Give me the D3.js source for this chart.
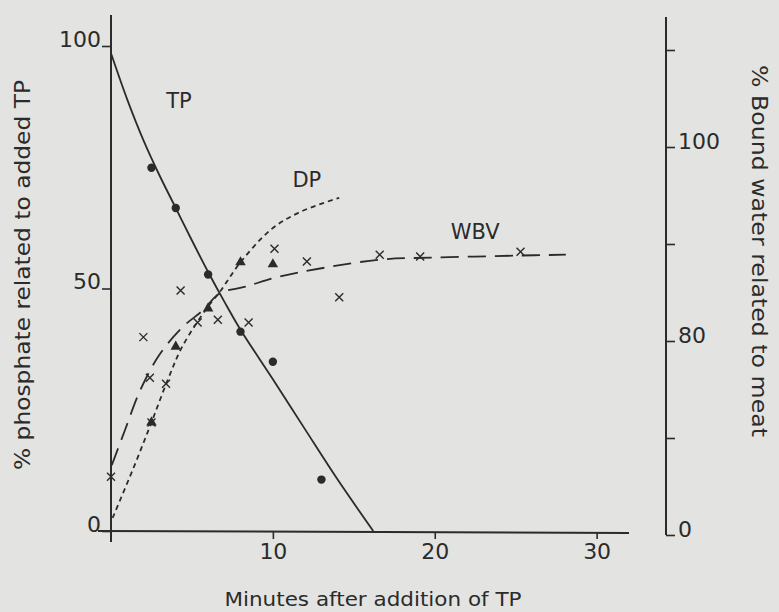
<!DOCTYPE html>
<html>
<head>
<meta charset="utf-8">
<script src="https://cdn.jsdelivr.net/npm/d3@7"></script>
<style>
  html, body { margin: 0; padding: 0; background: #e3e3e1; }
  svg { display: block; }
</style>
</head>
<body>
<script>
// ---- data ----
const xTickValues = [10, 20, 30];
const leftTickValues = [0, 50, 100];
const rightTickValues = [60, 70, 80, 90, 100, 110];
const rightTickLabels = ["0", "", "80", "", "100", ""];

const tpCurveX = [0, 1, 2, 3, 4, 5, 6, 7, 8, 10, 12, 14, 16.2];
const tpCurveY = [98.5, 89.0, 80.6, 73.3, 66.6, 59.9, 53.4, 47.3, 41.5, 31.3, 20.9, 10.6, 0];
const tpDotsX = [2.5, 4.0, 6.0, 8.0, 10.0, 13.0];
const tpDotsY = [74.9, 66.6, 52.9, 41.1, 34.9, 10.6];

const dpCurveX = [0.1, 1.4, 2.5, 3.5, 4.4, 6.0, 6.7, 8.0, 9.9, 11.7, 14.1];
const dpCurveY = [2.7, 13.1, 22.4, 31.1, 38.0, 46.3, 49.2, 55.4, 62.2, 65.8, 68.7];
const dpTrianglesX = [2.5, 4.0, 6.0, 8.0, 10.0];
const dpTrianglesY = [22.4, 38.0, 45.9, 55.4, 55.0];

const wbvCurveX = [0.05, 0.86, 1.8, 3.0, 4.4, 5.7, 6.7, 8.3, 10.3, 13.0, 16.7, 20.0, 25.0, 28.1];
const wbvCurveY = [67.2, 70.8, 74.9, 78.6, 81.4, 83.2, 84.9, 85.6, 86.6, 87.5, 88.4, 88.6, 88.8, 88.9];
const wbvCrossesX = [0, 2.0, 2.4, 3.4, 4.3, 5.35, 6.6, 8.5, 10.1, 12.1, 14.1, 16.6, 19.1, 25.3, 2.5];
const wbvCrossesY = [66.0, 80.4, 76.2, 75.6, 85.2, 81.9, 82.2, 81.9, 89.5, 88.2, 84.5, 88.9, 88.7, 89.2, 71.6];

const seriesNames = ["TP", "DP", "WBV"];
const xTitle = "Minutes after addition of TP";
const leftTitle = "% phosphate related to added TP";
const rightTitle = "% Bound water related to meat";

// ---- drawing ----
const W = 779, H = 612;
const ink = "#2b2b2b";
const font = "'DejaVu Sans', sans-serif";

const svg = d3.select("body").append("svg").attr("width", W).attr("height", H)
  .style("background", "#e3e3e1");

const x = d3.scaleLinear().domain([0, 32]).range([111, 629]);
const yL = d3.scaleLinear().domain([0, 100]).range([531, 46]);
const yR = d3.scaleLinear().domain([60, 110]).range([535, 50]);

const zip = (xs, ys) => xs.map((v, i) => [v, ys[i]]);

// axis lines
svg.append("line").attr("x1", x(0)).attr("x2", x(0)).attr("y1", 15).attr("y2", 542)
  .attr("stroke", ink).attr("stroke-width", 2);
svg.append("line").attr("x1", 98).attr("x2", x(32)).attr("y1", yL(0)).attr("y2", yL(0) + 2)
  .attr("stroke", ink).attr("stroke-width", 2);
svg.append("line").attr("x1", 666).attr("x2", 666).attr("y1", 17).attr("y2", yR(60))
  .attr("stroke", ink).attr("stroke-width", 2);

// left axis
const gL = svg.append("g").attr("transform", `translate(${x(0)},0)`)
  .call(d3.axisLeft(yL).tickValues(leftTickValues).tickSize(9).tickPadding(1).tickFormat(d3.format("d")));
gL.select(".domain").remove();
gL.selectAll("line").attr("stroke", ink).attr("stroke-width", 1.6);
gL.selectAll("text").attr("font-family", font).attr("font-size", 22).attr("fill", ink)
  .attr("dy", "0em");

// bottom axis
const gB = svg.append("g").attr("transform", `translate(0,${yL(0) + 1})`)
  .call(d3.axisBottom(x).tickValues(xTickValues).tickSize(7).tickPadding(4).tickFormat(d3.format("d")));
gB.select(".domain").remove();
gB.selectAll("line").attr("stroke", ink).attr("stroke-width", 1.6);
gB.selectAll("text").attr("font-family", font).attr("font-size", 22).attr("fill", ink);

// right axis
const gR = svg.append("g").attr("transform", `translate(666,0)`)
  .call(d3.axisRight(yR).tickValues(rightTickValues).tickSize(9).tickPadding(3)
    .tickFormat((d, i) => rightTickLabels[i]));
gR.select(".domain").remove();
gR.selectAll("line").attr("stroke", ink).attr("stroke-width", 1.6);
gR.selectAll("text").attr("font-family", font).attr("font-size", 22).attr("fill", ink)
  .attr("dy", "0.05em");

// curves
const lineL = d3.line().x(d => x(d[0])).y(d => yL(d[1])).curve(d3.curveCatmullRom.alpha(0.5));
const lineR = d3.line().x(d => x(d[0])).y(d => yR(d[1])).curve(d3.curveCatmullRom.alpha(0.5));

svg.append("path").attr("d", lineL(zip(tpCurveX, tpCurveY)))
  .attr("fill", "none").attr("stroke", ink).attr("stroke-width", 1.8);
svg.append("path").attr("d", lineL(zip(dpCurveX, dpCurveY)))
  .attr("fill", "none").attr("stroke", ink).attr("stroke-width", 1.8)
  .attr("stroke-dasharray", "5,4");
svg.append("path").attr("d", lineR(zip(wbvCurveX, wbvCurveY)))
  .attr("fill", "none").attr("stroke", ink).attr("stroke-width", 1.8)
  .attr("stroke-dasharray", "18,9");

// markers
svg.append("g").selectAll("circle").data(zip(tpDotsX, tpDotsY)).join("circle")
  .attr("cx", d => x(d[0])).attr("cy", d => yL(d[1])).attr("r", 4.2).attr("fill", ink);

const tri = d3.symbol().type(d3.symbolTriangle).size(48);
svg.append("g").selectAll("path").data(zip(dpTrianglesX, dpTrianglesY)).join("path")
  .attr("d", tri).attr("transform", d => `translate(${x(d[0])},${yL(d[1])})`).attr("fill", ink);

svg.append("g").selectAll("path").data(zip(wbvCrossesX, wbvCrossesY)).join("path")
  .attr("d", "M-4,-4L4,4M-4,4L4,-4")
  .attr("transform", d => `translate(${x(d[0])},${yR(d[1])})`)
  .attr("stroke", ink).attr("stroke-width", 1.4).attr("fill", "none");

// series labels
const labelPos = [[4.2, 87.2], [12.1, 71.0], [22.5, 60.2]];
svg.append("g").selectAll("text").data(seriesNames).join("text")
  .attr("x", (d, i) => x(labelPos[i][0])).attr("y", (d, i) => yL(labelPos[i][1]))
  .attr("text-anchor", "middle").attr("font-family", font).attr("font-size", 21)
  .attr("fill", ink).text(d => d);

// titles
svg.append("text").attr("x", 373).attr("y", 606).attr("text-anchor", "middle")
  .attr("font-family", font).attr("font-size", 20).attr("fill", ink)
  .attr("textLength", 297).attr("lengthAdjust", "spacingAndGlyphs").text(xTitle);
svg.append("text").attr("transform", "translate(30,275) rotate(-90)").attr("text-anchor", "middle")
  .attr("font-family", font).attr("font-size", 21).attr("fill", ink)
  .attr("textLength", 390).attr("lengthAdjust", "spacingAndGlyphs").text(leftTitle);
svg.append("text").attr("transform", "translate(752,251) rotate(90)").attr("text-anchor", "middle")
  .attr("font-family", font).attr("font-size", 21).attr("fill", ink)
  .attr("textLength", 372).attr("lengthAdjust", "spacingAndGlyphs").text(rightTitle);
</script>
</body>
</html>
